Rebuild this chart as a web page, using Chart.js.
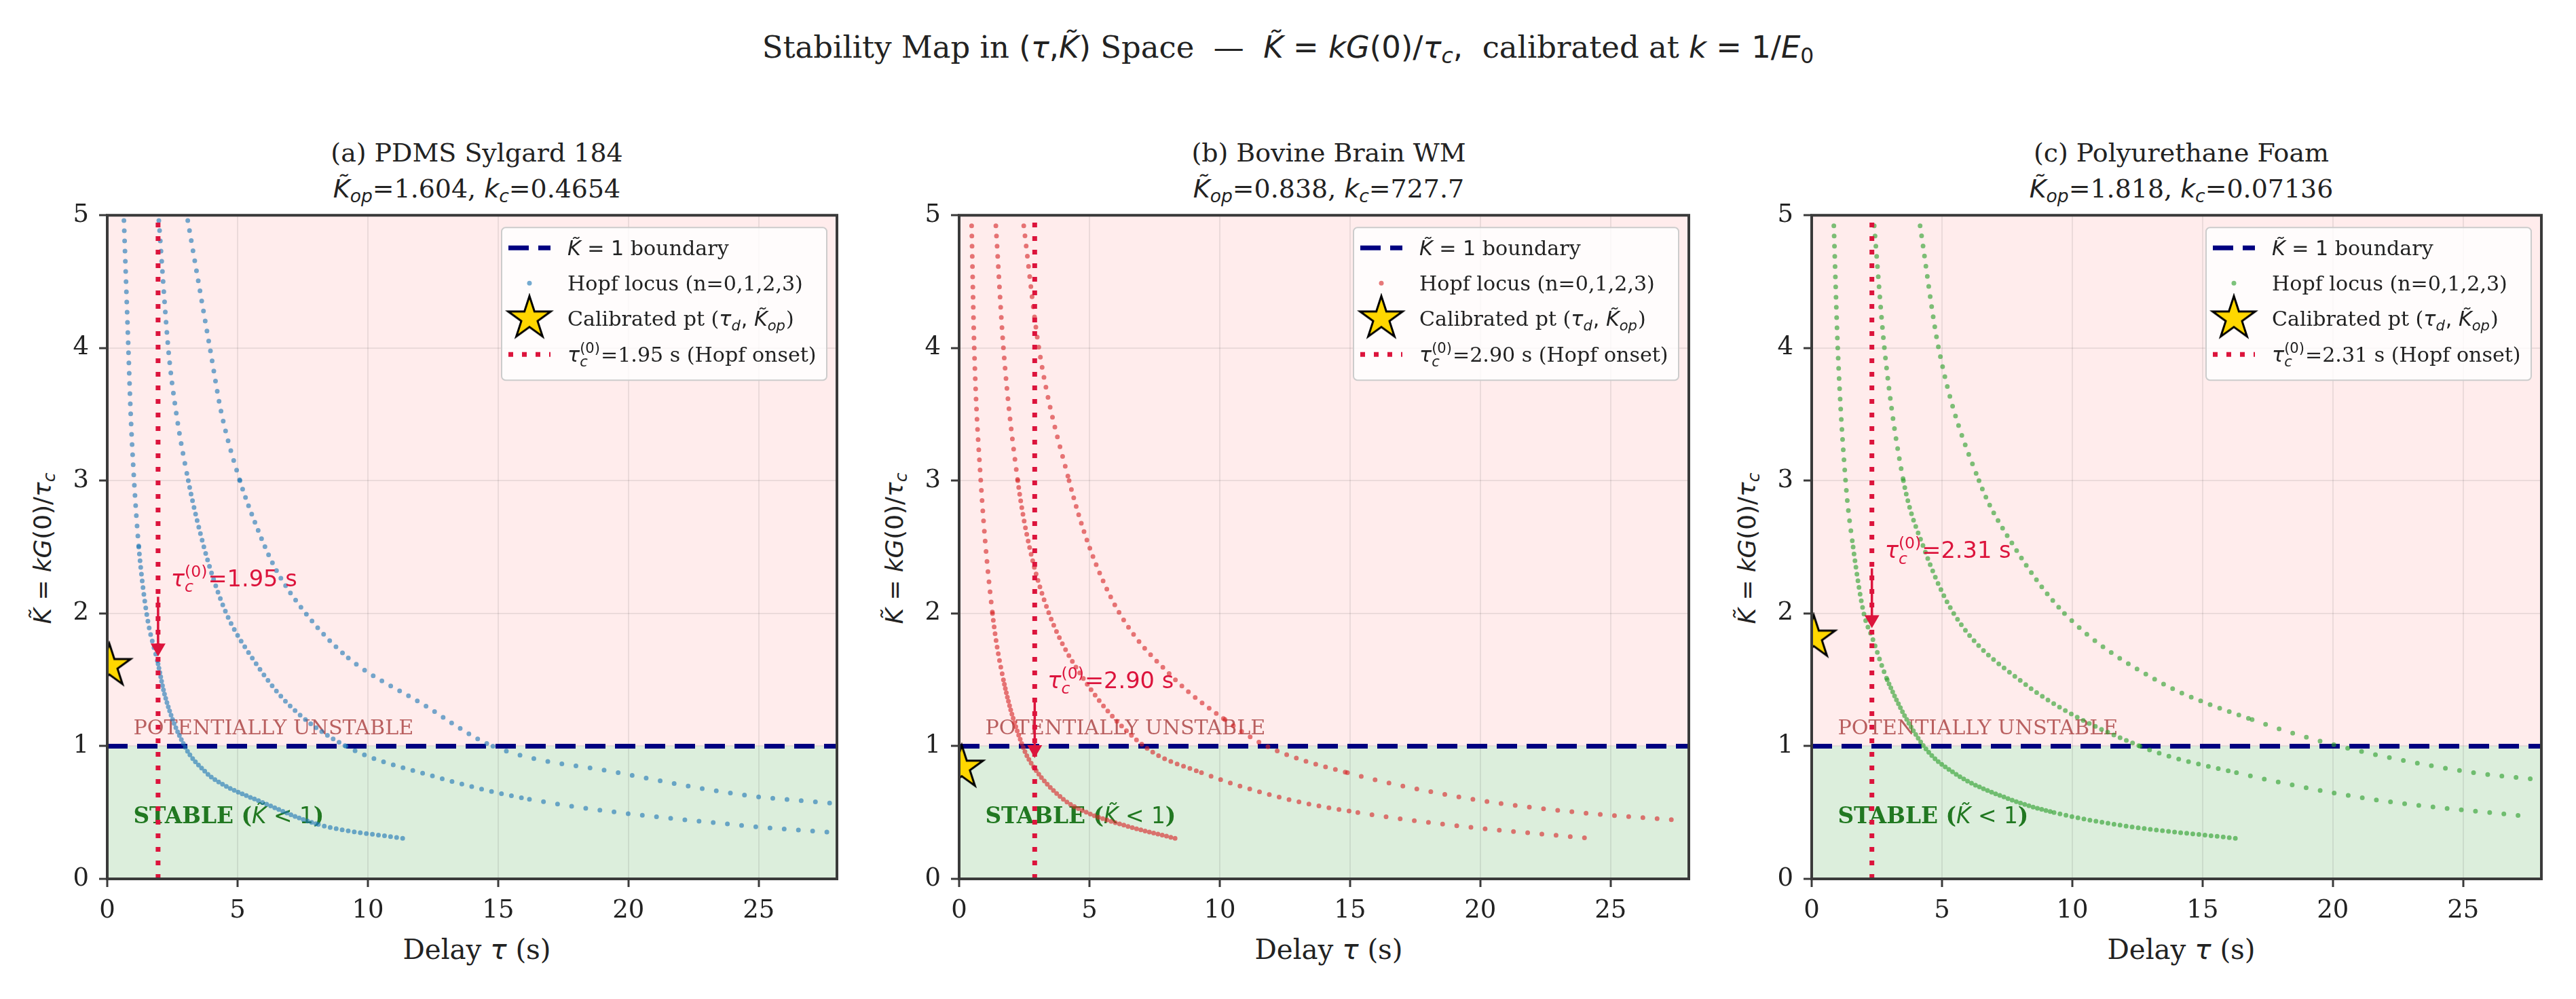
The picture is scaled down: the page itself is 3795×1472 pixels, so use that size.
<!DOCTYPE html>
<html lang="en">
<head>
<meta charset="UTF-8">
<title>Stability Map in (τ, K̃) Space</title>
<script src="https://cdn.jsdelivr.net/npm/chart.js"></script>
<style>
  body { margin: 0; width: 3795px; height: 1472px; position: relative; overflow: hidden;
         background: #fff; color: #222; font-family: 'DejaVu Serif', serif; }
  .abs { position: absolute; white-space: nowrap; }
  .m  { font-family: 'DejaVu Sans', sans-serif; }
  .mi { font-family: 'DejaVu Sans', sans-serif; font-style: italic; }
  sub { font-size: 0.7em; vertical-align: -0.25em; line-height: 0; }
  .fit { display: inline-block; }
  #suptitle { left: 0; width: 3795px; top: 46px; text-align: center; font-size: 43px; line-height: 48px; }
  .ptitle { text-align: center; font-size: 39px; line-height: 53px; top: 199px; }
  .xlabel { text-align: center; font-size: 40px; line-height: 48px; top: 1376px; }
  .ylabel { font-size: 35px; line-height: 44px; top: 808px; transform: translate(-50%, -50%) rotate(-90deg); }
  canvas { position: absolute; top: 280px; }
</style>
</head>
<body>
<div id="suptitle" class="abs"><span class="fit" id="supText">Stability Map in <span class="m">(</span><span class="mi">τ</span><span class="m">,</span><span class="mi">K̃</span><span class="m">)</span> Space &nbsp;—&nbsp; <span class="mi">K̃</span><span class="m"> = </span><span class="mi">kG</span><span class="m">(0)/</span><span class="mi">τ<sub>c</sub></span><span class="m">,</span>&nbsp; calibrated at <span class="mi">k</span><span class="m"> = 1/</span><span class="mi">E</span><sub class="m">0</sub></span></div>

<script>
  // ---- data ----
  const panelTitles = ['(a) PDMS Sylgard 184', '(b) Bovine Brain WM', '(c) Polyurethane Foam'];
  const kOpValues = [1.604, 0.838, 1.818];
  const kcLabels = ['0.4654', '727.7', '0.07136'];
  const tauCrit = [1.95, 2.90, 2.31];
  const tauDelay = [0.08, 0.1, 0.08];
  const xTicks = [0, 5, 10, 15, 20, 25];
  const yTicks = [0, 1, 2, 3, 4, 5];
  const xLimits = [0, 28];
  const yLimits = [0, 5];
  const boundaryK = 1;

  // Hopf locus branches n = 0, 1, 2 (tau in s, K-tilde)
  const tauA0 = [0.64, 0.81, 0.9, 1.03, 1.21, 1.51, 1.95, 2.2, 2.97, 3.8, 4.19, 6.03, 8.1, 11.5];
  const kA0   = [4.96, 4.0, 3.5, 3.0, 2.5, 2.0, 1.62, 1.39, 1.0, 0.8, 0.74, 0.57, 0.41, 0.30];
  const tauA1 = [1.98, 2.34, 2.64, 3.11, 3.45, 3.93, 4.57, 5.56, 6.93, 9.16, 12.4, 16.2, 24.5, 27.8];
  const kA1   = [4.96, 4.0, 3.52, 3.0, 2.7, 2.35, 2.0, 1.665, 1.32, 1.0, 0.78, 0.6, 0.40, 0.35];
  const tauA2 = [3.09, 3.94, 4.37, 5.09, 5.64, 6.42, 7.62, 9.25, 12.08, 14.8, 19.6, 24.5, 27.8];
  const kA2   = [4.96, 4.0, 3.52, 3.0, 2.7, 2.35, 2.0, 1.665, 1.32, 1.0, 0.8, 0.63, 0.57];

  const tauB0 = [0.48, 0.58, 0.83, 1.28, 1.7, 2.44, 2.87, 4.0, 4.9, 6.4, 8.3];
  const kB0   = [4.92, 4.0, 3.0, 2.0, 1.5, 1.0, 0.84, 0.6, 0.5, 0.4, 0.305];
  const tauB1 = [1.41, 1.7, 2.25, 2.7, 3.45, 4.8, 7.1, 9.3, 12.6, 15.3, 19.1, 24.2];
  const kB1   = [4.92, 4.0, 3.0, 2.5, 2.0, 1.5, 1.0, 0.8, 0.6, 0.5, 0.4, 0.305];
  const tauB2 = [2.48, 3.06, 4.22, 5.0, 6.16, 8.3, 10.2, 11.8, 14.9, 19.7, 23.8, 27.7];
  const kB2   = [4.92, 4.0, 3.0, 2.5, 2.0, 1.5, 1.2, 1.0, 0.8, 0.6, 0.5, 0.44];

  const tauC0 = [0.85, 1.0, 1.3, 1.59, 2.0, 2.32, 2.9, 4.3, 5.45, 7.6, 9.3, 12.0, 16.3];
  const kC0   = [4.92, 4.0, 3.0, 2.5, 2.0, 1.82, 1.5, 1.0, 0.8, 0.6, 0.5, 0.4, 0.305];
  const tauC1 = [2.4, 2.79, 3.52, 4.29, 5.45, 7.97, 12.6, 16.3, 21.5, 27.5];
  const kC1   = [4.92, 4.0, 3.0, 2.5, 2.0, 1.5, 1.0, 0.8, 0.6, 0.47];
  const tauC2 = [4.16, 4.87, 6.42, 7.78, 9.7, 13.2, 16.9, 20.25, 25.4, 27.8];
  const kC2   = [4.92, 4.0, 3.0, 2.5, 2.0, 1.5, 1.2, 1.0, 0.8, 0.75];

  const hopfTau = [[tauA0, tauA1, tauA2], [tauB0, tauB1, tauB2], [tauC0, tauC1, tauC2]];
  const hopfK = [[kA0, kA1, kA2], [kB0, kB1, kB2], [kC0, kC1, kC2]];

  // ---- styling ----
  const locusColors = ['rgba(31,119,180,0.62)', 'rgba(214,39,40,0.62)', 'rgba(44,160,44,0.62)'];
  const navy = '#000080';
  const crimson = '#dc143c';
  const plotLeft = [158, 1413, 2669];
  const plotWidth = 1089;
  const SERIF = '"DejaVu Serif"';
  const SANS = '"DejaVu Sans"';

  // scale an inline-block's font so its width hits the target
  function fitWidth(el, target) {
    const fs = parseFloat(getComputedStyle(el).fontSize);
    el.style.fontSize = (fs * target / el.offsetWidth).toFixed(2) + 'px';
  }

  // HTML titles and axis labels
  let titleSpan = null;
  panelTitles.forEach((t, i) => {
    const d = document.createElement('div');
    d.className = 'abs ptitle';
    d.style.left = plotLeft[i] + 'px';
    d.style.width = plotWidth + 'px';
    d.innerHTML = '<span class="fit">' + t + '</span><br><span class="mi">K̃<sub>op</sub></span>=' +
      kOpValues[i].toFixed(3) + ', <span class="mi">k<sub>c</sub></span>=' + kcLabels[i];
    document.body.appendChild(d);
    if (i === 0) titleSpan = d;

    const xl = document.createElement('div');
    xl.className = 'abs xlabel';
    xl.style.left = plotLeft[i] + 'px';
    xl.style.width = plotWidth + 'px';
    xl.innerHTML = '<span class="fit">Delay <span class="mi">τ</span> (s)</span>';
    document.body.appendChild(xl);

    const yl = document.createElement('div');
    yl.className = 'abs ylabel';
    yl.style.left = (plotLeft[i] - 95) + 'px';
    yl.innerHTML = '<span class="mi">K̃</span><span class="m"> = </span><span class="mi">kG</span>' +
      '<span class="m">(0)/</span><span class="mi">τ<sub>c</sub></span>';
    document.body.appendChild(yl);
  });
  fitWidth(document.getElementById('supText'), 1550);
  // panel titles share one size, set from panel (a)
  {
    const first = titleSpan.querySelector('.fit');
    const fs = parseFloat(getComputedStyle(titleSpan).fontSize) * 431 / first.offsetWidth;
    document.querySelectorAll('.ptitle').forEach(el => { el.style.fontSize = fs.toFixed(2) + 'px'; });
    const xs = document.querySelector('.xlabel .fit');
    const xfs = parseFloat(getComputedStyle(xs).fontSize) * 218 / xs.offsetWidth;
    document.querySelectorAll('.xlabel').forEach(el => { el.style.fontSize = xfs.toFixed(2) + 'px'; });
    const ys = document.querySelector('.ylabel');
    const yfs = parseFloat(getComputedStyle(ys).fontSize) * 223 / ys.offsetWidth;
    document.querySelectorAll('.ylabel').forEach(el => { el.style.fontSize = yfs.toFixed(2) + 'px'; });
  }

  // gold star marker like matplotlib '*'
  function starMarker(R) {
    const c = document.createElement('canvas');
    const s = Math.ceil(2 * R + 8);
    c.width = s; c.height = s;
    const g = c.getContext('2d');
    g.translate(s / 2, s / 2);
    g.beginPath();
    for (let k = 0; k < 10; k++) {
      const r = k % 2 ? R * 0.382 : R;
      const a = -Math.PI / 2 + k * Math.PI / 5;
      g.lineTo(r * Math.cos(a), r * Math.sin(a));
    }
    g.closePath();
    g.fillStyle = '#ffd700';
    g.fill();
    g.lineWidth = 3;
    g.strokeStyle = '#000';
    g.stroke();
    return c;
  }
  const star = starMarker(33);

  // text runs with math bits
  const serif = (t, s, w) => ({ t, f: `${w || ''} ${s}px ${SERIF}` });
  const sans = (t, s) => ({ t, f: `${s}px ${SANS}` });
  const ital = (t, s) => ({ t, f: `italic ${s}px ${SANS}` });
  const scr = (sub, sup, s) => ({ sub, sup, fSub: `italic ${0.7 * s}px ${SANS}`, fSup: `${0.7 * s}px ${SANS}`,
    up: 0.42 * s, down: 0.24 * s });

  function drawRuns(ctx, runs, x, y, color, measureOnly) {
    ctx.fillStyle = color;
    ctx.textAlign = 'left';
    ctx.textBaseline = 'alphabetic';
    let cx = x;
    runs.forEach(r => {
      if (r.sub !== undefined) {
        let w = 0;
        if (r.sup) { ctx.font = r.fSup; if (!measureOnly) ctx.fillText(r.sup, cx, y - r.up); w = Math.max(w, ctx.measureText(r.sup).width); }
        if (r.sub) { ctx.font = r.fSub; if (!measureOnly) ctx.fillText(r.sub, cx, y + r.down); w = Math.max(w, ctx.measureText(r.sub).width); }
        cx += w + 1;
      } else {
        ctx.font = r.f;
        if (!measureOnly) ctx.fillText(r.t, cx, y);
        cx += ctx.measureText(r.t).width;
      }
    });
    return cx - x;
  }
  // font size that makes a run list reach the target width
  function fitSize(ctx, build, target) {
    const w = drawRuns(ctx, build(30), 0, 0, '#000', true);
    return 30 * target / w;
  }

  function dotGap(n, ctx) {
    const k = ctx.p0.parsed.y, t = ctx.p0.parsed.x;
    if (n === 0) {
      if (k > 2.5) return 15;
      if (k > 1.8) return 10;
      return t > 8 ? 9 : 6.5;
    }
    if (k > 3) return 15;
    if (t > 14) return 21;
    if (t > 9) return 15;
    return n === 1 ? 10 : 13;
  }

  const annot = (i, s) => [ital('τ', s), scr('c', '(0)', s), sans('=' + tauCrit[i].toFixed(2) + ' s', s)];
  const unstableRuns = s => [serif('POTENTIALLY UNSTABLE', s)];
  const stableRuns = s => [serif('STABLE (', s, 'bold'), ital('K̃', s), sans(' < 1', s), serif(')', s, 'bold')];
  const hopfRuns = s => [serif('Hopf locus (n=0,1,2,3)', s)];

  const panelDecor = {
    id: 'panelDecor',
    beforeDraw(chart) {
      const { ctx, chartArea: a, scales: { y } } = chart;
      const yb = y.getPixelForValue(boundaryK);
      ctx.save();
      ctx.fillStyle = 'rgba(255,0,0,0.075)';
      ctx.fillRect(a.left, a.top, a.width, yb - a.top);
      ctx.fillStyle = 'rgba(0,128,0,0.137)';
      ctx.fillRect(a.left, yb, a.width, a.bottom - yb);
      ctx.restore();
    },
    beforeDatasetsDraw(chart) {
      const { ctx, scales: { x, y } } = chart;
      ctx.save();
      const us = fitSize(ctx, unstableRuns, 413);
      drawRuns(ctx, unstableRuns(us), x.getPixelForValue(1.0), y.getPixelForValue(1.09), 'rgba(139,0,0,0.6)');
      const ss = fitSize(ctx, stableRuns, 281);
      drawRuns(ctx, stableRuns(ss), x.getPixelForValue(1.0), y.getPixelForValue(0.42), 'rgba(0,100,0,0.85)');
      ctx.restore();
    },
    afterDatasetsDraw(chart, args, opts) {
      const i = opts.panel;
      const { ctx, chartArea: a, scales: { x, y } } = chart;
      const px = x.getPixelForValue(tauCrit[i]);
      const py = y.getPixelForValue(kOpValues[i]);
      ctx.save();
      // annotation arrow
      ctx.strokeStyle = crimson;
      ctx.fillStyle = crimson;
      ctx.lineWidth = 3.5;
      ctx.beginPath();
      ctx.moveTo(px, py - 102);
      ctx.lineTo(px, py - 30);
      ctx.stroke();
      ctx.beginPath();
      ctx.moveTo(px, py - 14);
      ctx.lineTo(px - 11, py - 33);
      ctx.lineTo(px + 11, py - 33);
      ctx.closePath();
      ctx.fill();
      const as = fitSize(ctx, s => annot(i, s), 186);
      drawRuns(ctx, annot(i, as), px + 19, py - 117, crimson);

      // legend
      const w = 479, h = 225;
      const x0 = a.right - 15 - w, y0 = a.top + 18;
      ctx.beginPath();
      ctx.roundRect(x0, y0, w, h, 6);
      ctx.fillStyle = 'rgba(255,255,255,0.8)';
      ctx.fill();
      ctx.strokeStyle = '#cccccc';
      ctx.lineWidth = 2;
      ctx.stroke();
      const rows = [30, 82, 134, 187].map(d => y0 + d);
      const hx0 = x0 + 10, hx1 = x0 + 72, hc = x0 + 41, tx = x0 + 97;
      ctx.setLineDash([30, 14]);
      ctx.lineWidth = 7;
      ctx.strokeStyle = navy;
      ctx.beginPath(); ctx.moveTo(hx0, rows[0]); ctx.lineTo(hx1, rows[0]); ctx.stroke();
      ctx.setLineDash([7, 13]);
      ctx.strokeStyle = crimson;
      ctx.beginPath(); ctx.moveTo(hx0, rows[3]); ctx.lineTo(hx1, rows[3]); ctx.stroke();
      ctx.setLineDash([]);
      ctx.fillStyle = locusColors[i];
      ctx.beginPath(); ctx.arc(hc, rows[1], 3.5, 0, 2 * Math.PI); ctx.fill();
      ctx.drawImage(star, hc - star.width / 2, rows[2] - star.height / 2);
      const fs = fitSize(ctx, hopfRuns, 347), dy = 0.36 * fs;
      drawRuns(ctx, [ital('K̃', fs), sans(' = 1', fs), serif(' boundary', fs)], tx, rows[0] + dy, '#222');
      drawRuns(ctx, hopfRuns(fs), tx, rows[1] + dy, '#222');
      drawRuns(ctx, [serif('Calibrated pt (', fs), ital('τ', fs), scr('d', '', fs), sans(', ', fs),
        ital('K̃', fs), scr('op', '', fs), serif(')', fs)], tx, rows[2] + dy, '#222');
      drawRuns(ctx, [ital('τ', fs), scr('c', '(0)', fs), serif('=' + tauCrit[i].toFixed(2) + ' s (Hopf onset)', fs)],
        tx, rows[3] + dy, '#222');
      ctx.restore();
    },
    afterDraw(chart) {
      const { ctx, chartArea: a } = chart;
      ctx.save();
      ctx.strokeStyle = '#3a3a3a';
      ctx.lineWidth = 4;
      ctx.strokeRect(a.left, a.top, a.width, a.height);
      ctx.restore();
    }
  };

  const tickFont = { family: 'DejaVu Serif', size: 37 };

  panelTitles.forEach((t, i) => {
    const cv = document.createElement('canvas');
    cv.width = 1259;
    cv.height = 1192;
    cv.style.left = (plotLeft[i] - 150) + 'px';
    document.body.appendChild(cv);

    const curves = hopfTau[i].map((taus, n) => ({
      label: 'Hopf locus n=' + n,
      data: taus.map((tv, j) => ({ x: tv, y: hopfK[i][n][j] })),
      showLine: true,
      pointRadius: 0,
      borderColor: locusColors[i],
      borderWidth: 7,
      borderCapStyle: 'round',
      borderDash: [0, 12],
      cubicInterpolationMode: 'monotone',
      segment: { borderDash: ctx => [0, dotGap(n, ctx)] },
      clip: 0
    }));

    new Chart(cv, {
      type: 'scatter',
      data: {
        datasets: [
          {
            label: 'Calibrated pt',
            data: [{ x: tauDelay[i], y: kOpValues[i] }],
            pointStyle: star,
            pointRadius: 33,
            clip: 0
          },
          {
            label: 'Hopf onset',
            data: yLimits.map(v => ({ x: tauCrit[i], y: v })),
            showLine: true,
            pointRadius: 0,
            borderColor: crimson,
            borderWidth: 7,
            borderDash: [7, 13],
            clip: 0
          },
          ...curves,
          {
            label: 'K=1 boundary',
            data: xLimits.map(v => ({ x: v, y: boundaryK })),
            showLine: true,
            pointRadius: 0,
            borderColor: navy,
            borderWidth: 7,
            borderDash: [30, 14],
            clip: 0
          }
        ]
      },
      options: {
        responsive: false,
        animation: false,
        devicePixelRatio: 1,
        events: [],
        layout: { padding: { top: 35, right: 20, left: 0, bottom: 0 } },
        scales: {
          x: {
            type: 'linear',
            min: xLimits[0],
            max: xLimits[1],
            afterBuildTicks: ax => { ax.ticks = xTicks.map(v => ({ value: v })); },
            afterFit: s => { s.height = 177; },
            border: { display: false },
            grid: { color: 'rgba(0,0,0,0.08)', lineWidth: 2, tickColor: '#3a3a3a', tickWidth: 3, tickLength: 12 },
            ticks: { font: tickFont, color: '#222', padding: 13, maxRotation: 0 }
          },
          y: {
            type: 'linear',
            min: yLimits[0],
            max: yLimits[1],
            afterBuildTicks: ax => { ax.ticks = yTicks.map(v => ({ value: v })); },
            afterFit: s => { s.width = 150; },
            border: { display: false },
            grid: { color: 'rgba(0,0,0,0.08)', lineWidth: 2, tickColor: '#3a3a3a', tickWidth: 3, tickLength: 12 },
            ticks: { font: tickFont, color: '#222', padding: 15 }
          }
        },
        plugins: {
          legend: { display: false },
          tooltip: { enabled: false },
          title: { display: false },
          panelDecor: { panel: i }
        }
      },
      plugins: [panelDecor]
    });
  });
</script>
</body>
</html>
